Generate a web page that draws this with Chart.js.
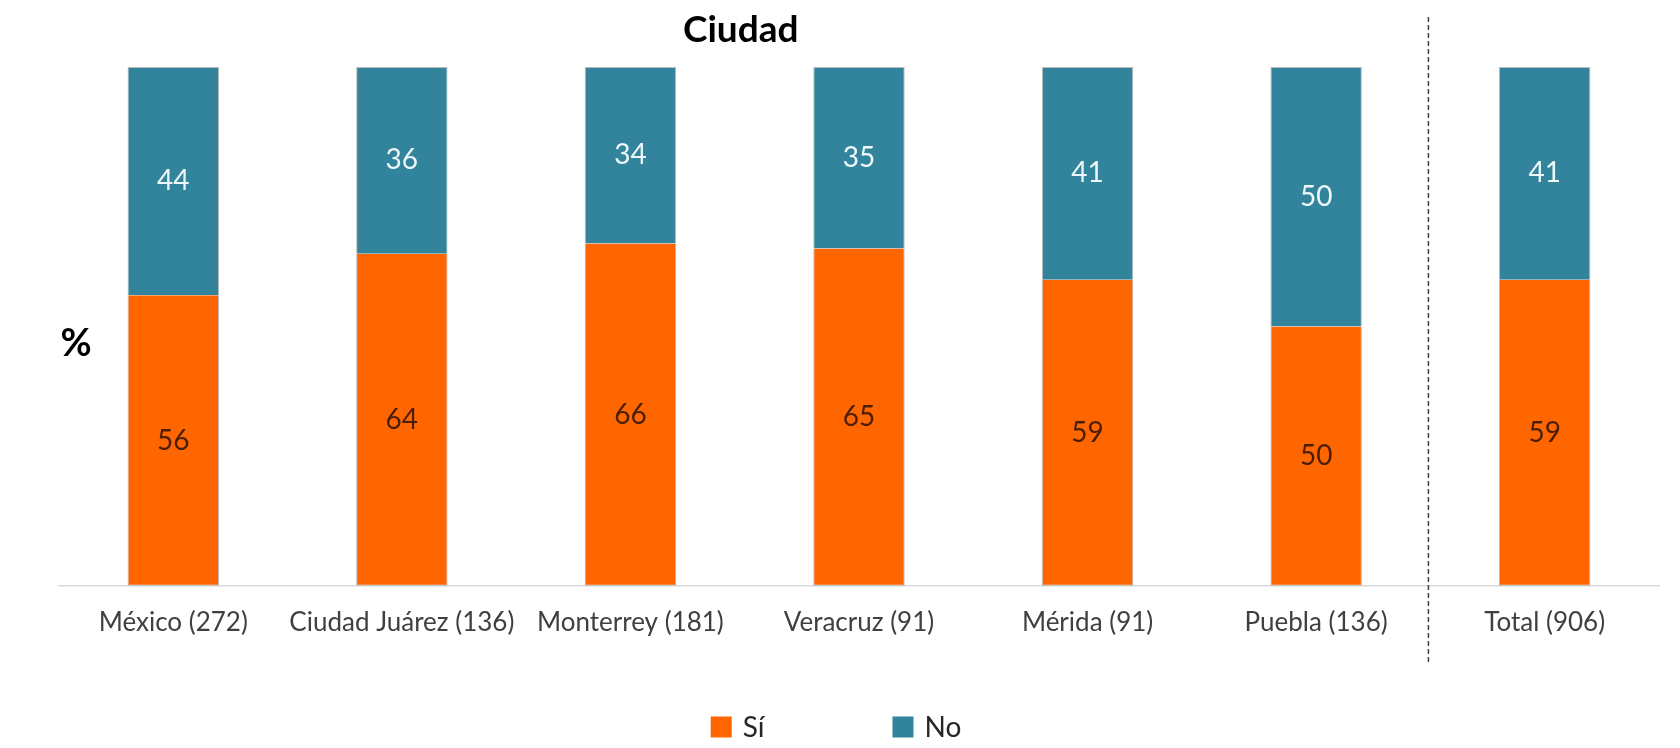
<!DOCTYPE html>
<html>
<head>
<meta charset="utf-8">
<script src="https://cdn.jsdelivr.net/npm/chart.js@4"></script>
<style>
  html, body { margin: 0; padding: 0; background: #ffffff; }
  #wrap { width: 1680px; height: 748px; position: relative; }
</style>
</head>
<body>
<div id="wrap"><canvas id="c" width="1680" height="748"></canvas></div>
<script>
const categories = ["México (272)", "Ciudad Juárez (136)", "Monterrey (181)", "Veracruz (91)", "Mérida (91)", "Puebla (136)", "Total (906)"];
const siValues = [56, 64, 66, 65, 59, 50, 59];
const noValues = [44, 36, 34, 35, 41, 50, 41];
const seriesNames = ["Sí", "No"];
const chartTitle = "Ciudad";
const yLabel = "%";

const ORANGE = "#FF6600";
const BLUE = "#31849B";
const FONT = "Lato, 'Open Sans', sans-serif";

const extras = {
  id: "extras",
  afterDatasetsDraw(chart) {
    const ctx = chart.ctx;
    chart.data.datasets.forEach((ds, di) => {
      const meta = chart.getDatasetMeta(di);
      meta.data.forEach((bar, i) => {
        const cy = (bar.y + bar.base) / 2;
        ctx.save();
        ctx.font = "28px " + FONT;
        ctx.fillStyle = di === 0 ? "#4a1e08" : "#eef8fb";
        ctx.textAlign = "center";
        ctx.textBaseline = "middle";
        ctx.fillText(String(ds.data[i]), bar.x, cy);
        ctx.restore();
      });
    });
  },
  afterDraw(chart) {
    const ctx = chart.ctx;
    const x = chart.scales.x;
    const sepX = (x.getPixelForValue(5) + x.getPixelForValue(6)) / 2 - 2;
    ctx.save();
    ctx.strokeStyle = "#404040";
    ctx.lineWidth = 1.5;
    ctx.setLineDash([5, 3]);
    ctx.beginPath();
    ctx.moveTo(sepX, 17);
    ctx.lineTo(sepX, 663);
    ctx.stroke();
    ctx.restore();
    const titleX = (x.getPixelForValue(0) + x.getPixelForValue(5)) / 2 - 4;
    ctx.save();
    ctx.font = "bold 37px " + FONT;
    ctx.fillStyle = "#000000";
    ctx.textAlign = "center";
    ctx.textBaseline = "alphabetic";
    ctx.fillText(chartTitle, titleX, 42);
    ctx.font = "bold 38px " + FONT;
    ctx.textBaseline = "middle";
    ctx.fillText(yLabel, 76, 344);
    ctx.restore();
    ctx.save();
    ctx.font = "28px " + FONT;
    const box = 21, gapText = 11, gapItem = 128;
    const items = chart.data.datasets.map(d => ({ label: d.label, color: d.backgroundColor, w: ctx.measureText(d.label).width }));
    let total = 0;
    items.forEach((it, i) => { total += box + gapText + it.w + (i < items.length - 1 ? gapItem : 0); });
    let lx = chart.width / 2 - total / 2 - 4;
    const ly = 727;
    items.forEach((it) => {
      ctx.fillStyle = it.color;
      ctx.fillRect(lx, ly - box / 2, box, box);
      ctx.fillStyle = "#262626";
      ctx.textAlign = "left";
      ctx.textBaseline = "middle";
      ctx.fillText(it.label, lx + box + gapText, ly + 1);
      lx += box + gapText + it.w + gapItem;
    });
    ctx.restore();
  }
};

new Chart(document.getElementById("c"), {
  type: "bar",
  data: {
    labels: categories,
    datasets: [
      { label: seriesNames[0], data: siValues, backgroundColor: ORANGE, borderColor: "rgba(130,130,130,0.55)", borderWidth: 1, borderSkipped: "top" },
      { label: seriesNames[1], data: noValues, backgroundColor: BLUE, borderColor: "rgba(130,130,130,0.55)", borderWidth: 1, borderSkipped: "bottom" }
    ]
  },
  options: {
    responsive: false,
    animation: false,
    devicePixelRatio: 1,
    layout: { padding: { left: 59, right: 21, top: 67, bottom: 89 } },
    datasets: { bar: { categoryPercentage: 1.0, barPercentage: 0.4 } },
    plugins: {
      legend: { display: false },
      title: { display: false },
      tooltip: { enabled: false }
    },
    scales: {
      x: {
        stacked: true,
        grid: { display: false, drawTicks: false },
        border: { display: true, color: "#d9d9d9", width: 1.5 },
        ticks: { color: "#404040", font: { family: FONT, size: 26 }, padding: 21, maxRotation: 0, autoSkip: false }
      },
      y: {
        stacked: true,
        display: false,
        min: 0,
        max: 100
      }
    }
  },
  plugins: [extras]
});
</script>
</body>
</html>
